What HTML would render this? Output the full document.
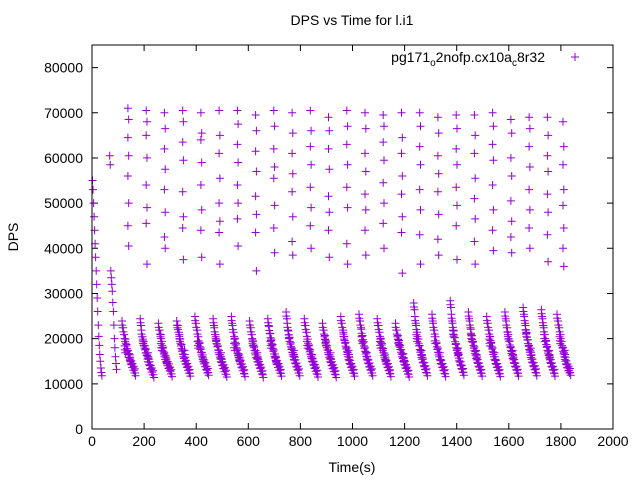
<!DOCTYPE html>
<html><head><meta charset="utf-8"><style>
body{margin:0;background:#fff}
svg{display:block;font-family:"Liberation Sans",sans-serif}
</style></head><body>
<svg id="c" width="640" height="480" viewBox="0 0 640 480">
<text x="352" y="25" text-anchor="middle" font-size="14">DPS vs Time for l.i1</text>
<text x="18" y="237" text-anchor="middle" font-size="14" transform="rotate(-90 18 237)">DPS</text>
<text x="352" y="472" text-anchor="middle" font-size="14">Time(s)</text>
<g id="ticks"></g>
<g id="pts"></g>
<rect x="92" y="45" width="521" height="384" fill="none" stroke="#000" stroke-width="1"/>
<g>
<text x="545" y="62" text-anchor="end" font-size="14">pg171<tspan font-size="10" dy="4">o</tspan><tspan dy="-4">2nofp.cx10a</tspan><tspan font-size="10" dy="4">c</tspan><tspan dy="-4">8r32</tspan></text>
<path d="M571 57h8M575 53v8" stroke="#9400d3" stroke-width="1"/>
</g>
</svg>
<script>
const xTicks=[0,200,400,600,800,1000,1200,1400,1600,1800,2000];
const yTicks=[0,10000,20000,30000,40000,50000,60000,70000,80000];
const initTimes=[2,4,6,8,10,12,14,16,18,20,22,24,26,28,30,32,34,36,38];
const initVals=[55000,53000,50000,47000,44000,41000,38000,35000,32000,29000,26000,23000,20500,18500,16500,15000,13500,12500,11800];
const spikeTimes=[68,70,72,74,76,78,80,82,84,86,88,90,92,94];
const spikeVals=[60500,58500,35000,33500,32000,30500,28000,26000,23000,20000,18000,16000,14500,13200];
const cycleStarts=[140,210,280,350,420,490,560,630,700,770,840,910,980,1050,1120,1190,1260,1330,1400,1470,1540,1610,1680,1750,1810];
const highVals=[
[71000,68500,64500,60500,56000,50000,45000,40500],
[70500,68000,65000,60000,54000,49000,45500,36500],
[70000,66500,62000,57500,53000,48000,42500,40000],
[70500,68000,63500,59500,52500,47000,44500,37500],
[70000,65500,64000,59000,54000,48500,44000,38000],
[70500,65000,61000,55500,50000,46000,43500,36500],
[70500,67500,63000,59000,54000,50000,46500,40500],
[69500,66000,61500,57000,51500,47500,43500,35000],
[70500,67000,62000,58000,55500,49500,44500,39000],
[70000,65500,61000,56500,52500,47000,41500,38500],
[70500,66000,62500,58500,53500,49000,45000,40000],
[69000,66000,62000,57500,51500,48000,44000,38000],
[70500,67000,63000,58500,53500,49000,41000,36500],
[70000,66500,61000,57000,52000,48500,44000,38500],
[69500,67000,63500,59500,54500,50000,45500,40000],
[70000,64500,61000,56000,52000,47000,43500,34500],
[70000,67000,62500,58500,53000,48500,43000,36500],
[69000,65500,60500,56500,52500,47500,42000,38500],
[69500,66500,62000,58500,53500,49500,45000,37500],
[69500,65000,61000,55500,51000,46500,41500,36500],
[70000,67000,63000,59500,54000,48500,44000,39500],
[68500,65500,60000,56000,50500,46000,42500,39000],
[69000,66500,62500,58000,53000,48500,44500,40000],
[69000,65000,60500,57000,52000,48000,43000,37000],
[68000,62500,58500,53000,49500,44500,40000,36000]];
const lowVals=[
[23000,21500,20000,19000,17800,16500,15800,15000,14200,13600,13000,12400,17500,15500],
[23500,21000,19500,18500,17500,16800,15500,14800,14000,13200,12600,12000,19000,16000],
[22500,21000,20000,18500,17200,16000,15400,14600,14000,13500,12800,12200,18000,15000],
[23000,22000,20500,19000,17800,16600,15600,15000,14300,13600,13000,12300,20000,16500],
[24000,22500,21000,19500,18200,17000,16000,15000,14400,13800,13000,12500,18500,15500],
[23500,21500,20000,18800,17500,16500,15500,14700,14000,13300,12700,12100,19500,16000],
[24000,22000,20500,19200,18000,16800,15800,15000,14300,13500,12900,12200,18000,15500],
[23000,21500,20000,18600,17400,16400,15500,14800,14100,13400,12800,12000,19000,16000],
[23500,21800,20200,19000,17800,16600,15700,14900,14200,13600,13000,12300,18500,15200],
[25000,22500,20800,19400,18200,17000,16000,15200,14400,13700,13000,12400,20000,16500],
[23500,22000,20500,19000,17700,16600,15600,14800,14100,13400,12800,12100,18500,15500],
[22500,21000,19800,18600,17500,16500,15500,14700,14000,13300,12700,12000,19000,16000],
[24000,22500,21000,19600,18300,17100,16000,15100,14300,13600,13000,12300,20500,16500],
[24500,23000,21200,19800,18400,17200,16100,15200,14400,13700,13000,12400,19500,16000],
[23500,22000,20500,19200,18000,16900,15900,15000,14300,13600,12900,12200,18500,15500],
[22500,21000,19800,18700,17600,16600,15600,14800,14100,13400,12800,12100,19000,15800],
[27000,24000,22000,20500,19000,17600,16400,15400,14600,13800,13100,12400,20000,16500],
[24500,22500,21000,19500,18200,17000,16000,15100,14300,13600,12900,12200,19500,16000],
[27500,24500,22500,20800,19300,18000,16800,15700,14800,14000,13200,12500,21000,17000],
[25000,23000,21200,19800,18500,17300,16200,15300,14500,13700,13000,12300,20000,16500],
[24000,22500,21000,19600,18300,17100,16000,15100,14300,13600,12900,12200,19000,16000],
[25000,23000,21500,20000,18600,17300,16200,15300,14500,13700,13000,12300,20500,16500],
[26000,24000,22000,20300,18900,17600,16400,15400,14600,13800,13100,12400,21000,17000],
[25500,23500,21500,20000,18700,17400,16300,15300,14500,13700,13000,12300,20000,16500],
[24500,23000,21500,20000,18500,17200,16000,15000,14200,13500,13000,12500,19500,16500]];
const X0=92,X1=613,Y0=429,Y1=45;
function xs(t){return X0+(t-0)*(X1-X0)/2000;}
function ys(v){return Y0-v*(Y0-Y1)/85000;}
const NS="http://www.w3.org/2000/svg";
const tg=document.getElementById('ticks');
xTicks.forEach(t=>{
  const x=xs(t);
  const p=document.createElementNS(NS,'path');
  p.setAttribute('d',`M${x} ${Y0}v-6M${x} ${Y1}v6`);p.setAttribute('stroke','#000');
  
  
  tg.appendChild(p);
  const l=document.createElementNS(NS,'text');
  l.setAttribute('x',x);l.setAttribute('y',446);l.setAttribute('text-anchor','middle');l.setAttribute('font-size','14');
  l.textContent=t;
  
  
  tg.appendChild(l);
});
yTicks.forEach(v=>{
  const y=ys(v);
  const p=document.createElementNS(NS,'path');
  p.setAttribute('d',`M${X0} ${y}h6M${X1} ${y}h-6`);p.setAttribute('stroke','#000');
  
  
  tg.appendChild(p);
  const l=document.createElementNS(NS,'text');
  l.setAttribute('x',83);l.setAttribute('y',y+5);l.setAttribute('text-anchor','end');l.setAttribute('font-size','14');
  l.textContent=v;
  
  
  tg.appendChild(l);
});
const pg=document.getElementById('pts');
let d='';
function add(t,v){const x=xs(t),y=ys(v);d+=`M${(x-4).toFixed(1)} ${y.toFixed(1)}h8M${x.toFixed(1)} ${(y-4).toFixed(1)}v8`;}
initTimes.forEach((t,i)=>add(t,initVals[i]));
spikeTimes.forEach((t,i)=>add(t,spikeVals[i]));
cycleStarts.forEach((s,c)=>{
  highVals[c].forEach((v,i)=>add(s-2+(i%2)*3,v));
  lowVals[c].forEach((v,i)=>{
    const t=s-24+(i<12?i*4.5:10+(i-12)*20);
    add(t,v);add(t+2,v-600);add(t-1,v+900);
  });
});
const path=document.createElementNS(NS,'path');
path.setAttribute('d',d);path.setAttribute('stroke','#9400d3');path.setAttribute('stroke-width','1');path.setAttribute('fill','none');


pg.appendChild(path);
</script>
</body></html>
